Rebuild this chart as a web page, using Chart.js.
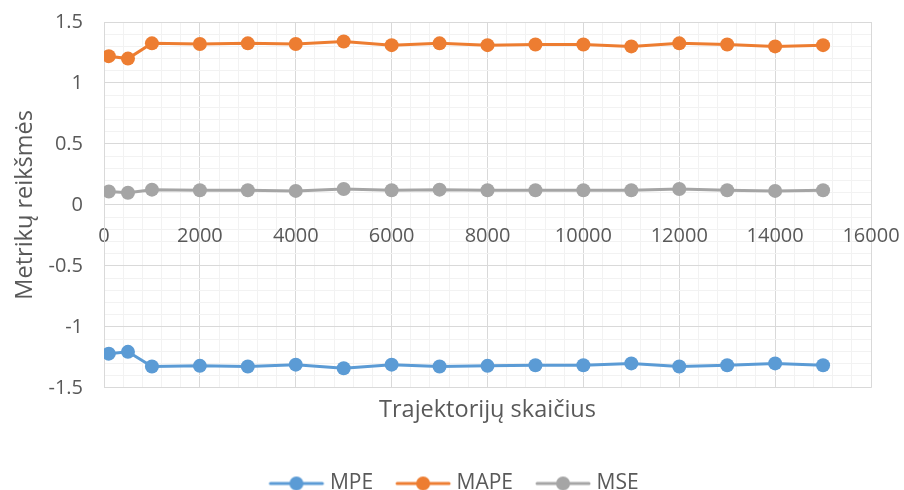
<!DOCTYPE html>
<html>
<head>
<meta charset="utf-8">
<script src="https://cdn.jsdelivr.net/npm/chart.js@4.4.1/dist/chart.umd.min.js"></script>
<style>
  html, body { margin: 0; padding: 0; background: #ffffff; }
  #wrap { width: 904px; height: 490px; position: relative; }
</style>
</head>
<body>
<div id="wrap"><canvas id="chart"></canvas></div>
<script>
// Number of trajectories (x) and the metric values measured for each
const trajectories = [100, 500, 1000, 2000, 3000, 4000, 5000, 6000, 7000, 8000, 9000, 10000, 11000, 12000, 13000, 14000, 15000];
const mpe  = [-1.22, -1.205, -1.325, -1.32, -1.325, -1.31, -1.34, -1.31, -1.325, -1.32, -1.315, -1.315, -1.30, -1.325, -1.315, -1.30, -1.315];
const mape = [1.22, 1.20, 1.325, 1.32, 1.325, 1.32, 1.34, 1.31, 1.325, 1.31, 1.315, 1.315, 1.30, 1.325, 1.315, 1.30, 1.31];
const mse  = [0.11, 0.10, 0.125, 0.12, 0.12, 0.115, 0.13, 0.12, 0.125, 0.12, 0.12, 0.12, 0.12, 0.13, 0.12, 0.115, 0.12];

const seriesNames = ['MPE', 'MAPE', 'MSE'];
const seriesColors = ['#5B9BD5', '#ED7D31', '#A5A5A5'];

// Major tick labels
const xTickLabels = ['0', '2000', '4000', '6000', '8000', '10000', '12000', '14000', '16000'];
const yTickLabels = ['-1.5', '-1', '-0.5', '0', '0.5', '1', '1.5'];

// Minor grid spacing
const xMinorStep = 400;
const yMinorStep = 0.1;

const xMin = Number(xTickLabels[0]), xMax = Number(xTickLabels[xTickLabels.length - 1]);
const yMin = Number(yTickLabels[0]), yMax = Number(yTickLabels[yTickLabels.length - 1]);

const xGrid = [];
for (let i = 0; i <= Math.round((xMax - xMin) / xMinorStep); i++) xGrid.push(xMin + i * xMinorStep);
const yGrid = [];
for (let i = 0; i <= Math.round((yMax - yMin) / yMinorStep); i++) yGrid.push(Math.round((yMin + i * yMinorStep) * 10) / 10);

const findLabel = (list, v) => {
  const hit = list.find(l => Math.abs(Number(l) - v) < 1e-9);
  return hit === undefined ? '' : hit;
};
const isMajor = (list, v) => findLabel(list, v) !== '';

const TEXT = '#595959';
const GRID_MAJOR = '#D9D9D9';
const GRID_MINOR = '#F2F2F2';
const FONT = 'Open Sans';

// Legend swatch: short line with a dot in the middle
function makeSwatch(color) {
  const c = document.createElement('canvas');
  c.width = 58; c.height = 16;
  const g = c.getContext('2d');
  g.strokeStyle = color; g.lineWidth = 3; g.lineCap = 'round';
  g.beginPath(); g.moveTo(3, 8); g.lineTo(55, 8); g.stroke();
  g.fillStyle = color;
  g.beginPath(); g.arc(29, 8, 7, 0, Math.PI * 2); g.fill();
  return c;
}
const swatches = seriesColors.map(makeSwatch);

const seriesValues = [mpe, mape, mse];
const datasets = seriesNames.map((name, s) => ({
  label: name,
  data: trajectories.map((t, i) => ({ x: t, y: seriesValues[s][i] })),
  borderColor: seriesColors[s],
  backgroundColor: seriesColors[s],
  pointBackgroundColor: seriesColors[s],
  pointBorderColor: seriesColors[s],
  borderWidth: 3,
  pointRadius: 7,
  pointBorderWidth: 0,
  pointHoverRadius: 7,
  tension: 0,
  xAxisID: 'x',
  yAxisID: 'y'
}));

new Chart(document.getElementById('chart'), {
  type: 'line',
  data: { datasets },
  options: {
    responsive: true,
    maintainAspectRatio: false,
    animation: false,
    layout: { padding: { left: 8, top: 22, right: 0, bottom: -14 } },
    plugins: {
      tooltip: { enabled: false },
      legend: {
        position: 'bottom',
        labels: {
          usePointStyle: true,
          pointStyleWidth: 46,
          padding: 27,
          color: TEXT,
          font: { family: FONT, size: 21 },
          generateLabels(chart) {
            const items = Chart.defaults.plugins.legend.labels.generateLabels(chart);
            items.forEach((it, i) => { it.pointStyle = swatches[i]; });
            return items;
          }
        }
      }
    },
    scales: {
      x: {
        type: 'linear',
        position: { y: 0 },
        min: xMin,
        max: xMax,
        afterBuildTicks: s => { s.ticks = xGrid.map(v => ({ value: v })); },
        // keep a 33px margin on the right of the plot area
        afterFit: s => { s.paddingLeft = 0; s.paddingRight = 33; },
        ticks: {
          autoSkip: false,
          maxRotation: 0,
          minRotation: 0,
          padding: 19,
          color: TEXT,
          font: { family: FONT, size: 20, lineHeight: 1.2 },
          callback: v => findLabel(xTickLabels, v)
        },
        grid: {
          drawTicks: false,
          lineWidth: 1,
          color: c => (c.tick && isMajor(xTickLabels, c.tick.value)) ? GRID_MAJOR : GRID_MINOR
        },
        border: { color: GRID_MAJOR, width: 1 }
      },
      x2: {
        axis: 'x',
        type: 'linear',
        position: 'bottom',
        display: true,
        ticks: { display: false },
        grid: { display: false, drawTicks: false },
        border: { display: false },
        afterFit: s => { s.paddingLeft = 0; s.paddingRight = 0; },
        title: {
          display: true,
          text: 'Trajektorijų skaičius',
          color: TEXT,
          font: { family: FONT, size: 23.5, lineHeight: 1.2 },
          padding: { top: 8, bottom: 22 }
        }
      },
      y: {
        type: 'linear',
        position: 'left',
        min: yMin,
        max: yMax,
        afterBuildTicks: s => { s.ticks = yGrid.map(v => ({ value: v })); },
        afterFit: s => { s.width = 96; s.paddingTop = 0; s.paddingBottom = 0; },
        ticks: {
          autoSkip: false,
          padding: 21,
          color: TEXT,
          font: { family: FONT, size: 20, lineHeight: 1.2 },
          callback: v => findLabel(yTickLabels, v)
        },
        grid: {
          drawTicks: false,
          lineWidth: 1,
          color: c => (c.tick && isMajor(yTickLabels, c.tick.value)) ? GRID_MAJOR : GRID_MINOR
        },
        border: { color: GRID_MAJOR, width: 1 },
        title: {
          display: true,
          text: 'Metrikų reikšmės',
          color: TEXT,
          font: { family: FONT, size: 23.5, lineHeight: 1.2 },
          padding: { top: 3, bottom: 0 }
        }
      }
    }
  }
});
</script>
</body>
</html>
